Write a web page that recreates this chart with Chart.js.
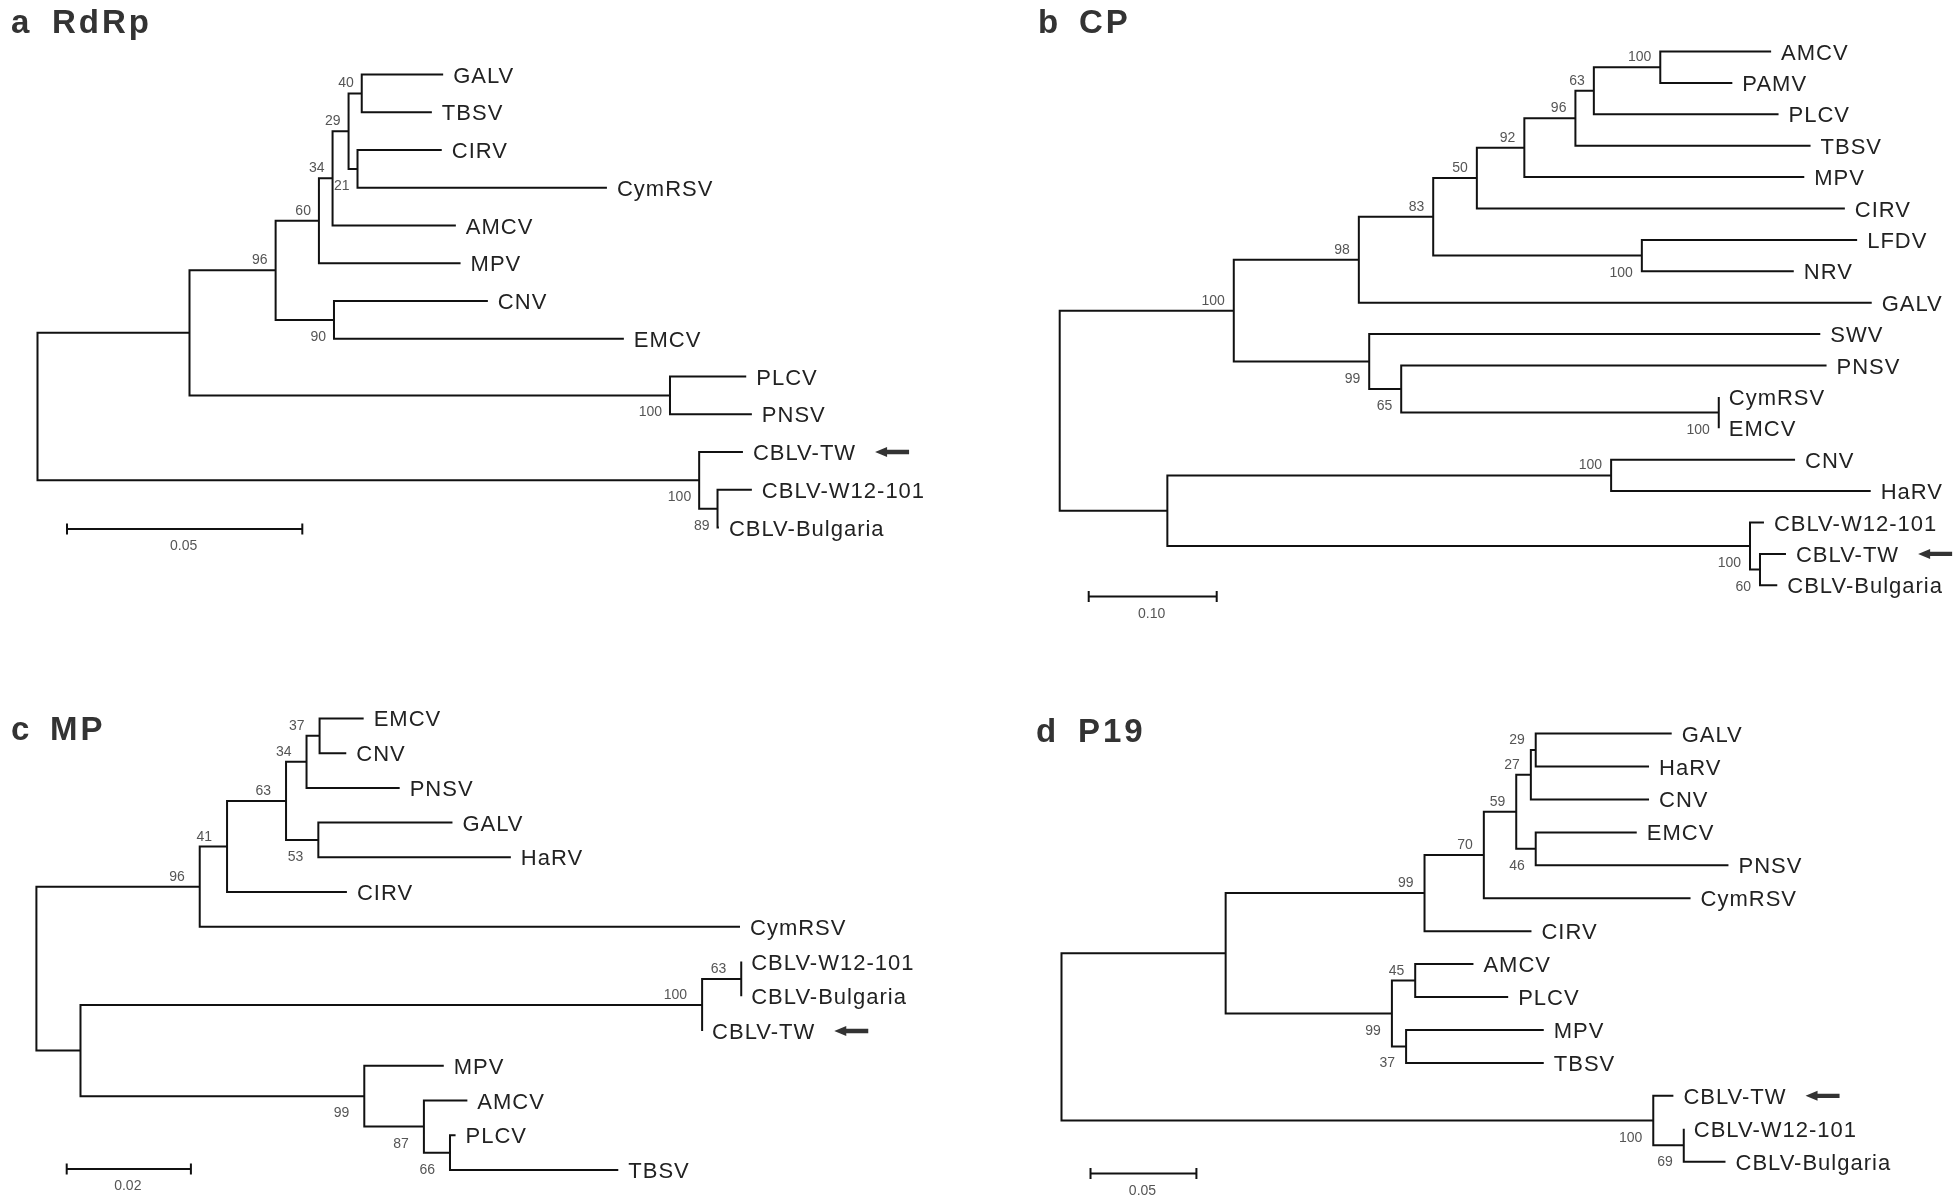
<!DOCTYPE html>
<html>
<head>
<meta charset="utf-8">
<script src="https://cdn.jsdelivr.net/npm/chart.js@4.4.1/dist/chart.umd.min.js"></script>
<style>
  html, body { margin: 0; padding: 0; background: #ffffff; }
  #wrap { position: relative; width: 1960px; height: 1201px; background: #ffffff; overflow: hidden; }
  canvas { position: absolute; }
</style>
</head>
<body>
<div id="wrap">
  <canvas id="pa"></canvas>
  <canvas id="pb"></canvas>
  <canvas id="pc"></canvas>
  <canvas id="pd"></canvas>
</div>
<script>
// ---------------- DATA ----------------
const panelLetters = ["a", "b", "c", "d"];
const panelNames = ["RdRp", "CP", "MP", "P19"];
const scaleLengths = [0.05, 0.10, 0.02, 0.05];
const scaleLabels = ["0.05", "0.10", "0.02", "0.05"];
const markedTip = "CBLV-TW";

// a  RdRp
const rdrpTips = ["GALV", "TBSV", "CIRV", "CymRSV", "AMCV", "MPV", "CNV", "EMCV", "PLCV", "PNSV", "CBLV-TW", "CBLV-W12-101", "CBLV-Bulgaria"];
const rdrpTipDepth = [0.0862, 0.0838, 0.0859, 0.1210, 0.0889, 0.0899, 0.0957, 0.1246, 0.1506, 0.1518, 0.1499, 0.1518, 0.1448];
const rdrpNodes = ["root", "n1", "n96", "n60", "n34", "n29", "n40", "n21", "n90", "nPL", "nCB", "n89"];
const rdrpChildren = [["n1", "nCB"], ["n96", "nPL"], ["n60", "n90"], ["n34", "MPV"], ["n29", "AMCV"], ["n40", "n21"], ["GALV", "TBSV"], ["CIRV", "CymRSV"], ["CNV", "EMCV"], ["PLCV", "PNSV"], ["CBLV-TW", "n89"], ["CBLV-W12-101", "CBLV-Bulgaria"]];
const rdrpNodeDepth = [0, 0.0323, 0.0506, 0.0598, 0.0627, 0.0661, 0.0689, 0.0680, 0.0630, 0.1344, 0.1406, 0.1445];
const rdrpSupport = [null, null, 96, 60, 34, 29, 40, 21, 90, 100, 100, 89];

// b  CP
const cpTips = ["AMCV", "PAMV", "PLCV", "TBSV", "MPV", "CIRV", "LFDV", "NRV", "GALV", "SWV", "PNSV", "CymRSV", "EMCV", "CNV", "HaRV", "CBLV-W12-101", "CBLV-TW", "CBLV-Bulgaria"];
const cpTipDepth = [0.5558, 0.5255, 0.5616, 0.5866, 0.5817, 0.6134, 0.6230, 0.5735, 0.6344, 0.5942, 0.5991, 0.5149, 0.5149, 0.5745, 0.6336, 0.5502, 0.5674, 0.5606];
const cpNodes = ["root", "n100a", "n98", "n83", "n50", "n92", "n96", "n63", "n100b", "n100c", "n99", "n65", "n100d", "nOut", "n100e", "n100f", "n60"];
const cpChildren = [["n100a", "nOut"], ["n98", "n99"], ["n83", "GALV"], ["n50", "n100c"], ["n92", "CIRV"], ["n96", "MPV"], ["n63", "TBSV"], ["n100b", "PLCV"], ["AMCV", "PAMV"], ["LFDV", "NRV"], ["SWV", "n65"], ["PNSV", "n100d"], ["CymRSV", "EMCV"], ["n100e", "n100f"], ["CNV", "HaRV"], ["CBLV-W12-101", "n60"], ["CBLV-TW", "CBLV-Bulgaria"]];
const cpNodeDepth = [0, 0.1360, 0.2337, 0.2918, 0.3259, 0.3630, 0.4029, 0.4173, 0.4692, 0.4548, 0.2418, 0.2668, 0.5149, 0.0841, 0.4308, 0.5393, 0.5471];
const cpSupport = [null, 100, 98, 83, 50, 92, 96, 63, 100, 100, 99, 65, 100, null, 100, 100, 60];

// c  MP
const mpTips = ["EMCV", "CNV", "PNSV", "GALV", "HaRV", "CIRV", "CymRSV", "CBLV-W12-101", "CBLV-Bulgaria", "CBLV-TW", "MPV", "AMCV", "PLCV", "TBSV"];
const mpTipDepth = [0.0527, 0.0499, 0.0585, 0.0670, 0.0764, 0.0500, 0.1133, 0.1135, 0.1135, 0.1072, 0.0656, 0.0694, 0.0675, 0.0937];
const mpNodes = ["root", "n96", "n41", "n63", "n34", "n37", "n53", "nOut", "n100", "n63b", "n99", "n87", "n66"];
const mpChildren = [["n96", "nOut"], ["n41", "CymRSV"], ["n63", "CIRV"], ["n34", "n53"], ["n37", "PNSV"], ["EMCV", "CNV"], ["GALV", "HaRV"], ["n100", "n99"], ["n63b", "CBLV-TW"], ["CBLV-W12-101", "CBLV-Bulgaria"], ["MPV", "n87"], ["AMCV", "n66"], ["PLCV", "TBSV"]];
const mpNodeDepth = [0, 0.0263, 0.0307, 0.0402, 0.0435, 0.0456, 0.0454, 0.0071, 0.1072, 0.1135, 0.0528, 0.0624, 0.0666];
const mpSupport = [null, 96, 41, 63, 34, 37, 53, null, 100, 63, 99, 87, 66];

// d  P19
const p19Tips = ["GALV", "HaRV", "CNV", "EMCV", "PNSV", "CymRSV", "CIRV", "AMCV", "PLCV", "MPV", "TBSV", "CBLV-TW", "CBLV-W12-101", "CBLV-Bulgaria"];
const p19TipDepth = [0.2881, 0.2774, 0.2774, 0.2716, 0.3149, 0.2970, 0.2219, 0.1945, 0.2109, 0.2277, 0.2277, 0.2889, 0.2938, 0.3135];
const p19Nodes = ["root", "n99a", "n99", "n70", "n59", "n27", "n29", "n46", "n99b", "n45", "n37", "n100", "n69"];
const p19Children = [["n99a", "n100"], ["n99", "n99b"], ["n70", "CIRV"], ["n59", "CymRSV"], ["n27", "n46"], ["n29", "CNV"], ["GALV", "HaRV"], ["EMCV", "PNSV"], ["n45", "n37"], ["AMCV", "PLCV"], ["MPV", "TBSV"], ["CBLV-TW", "n69"], ["CBLV-W12-101", "CBLV-Bulgaria"]];
const p19NodeDepth = [0, 0.0775, 0.1714, 0.1994, 0.2147, 0.2216, 0.2239, 0.2239, 0.1560, 0.1670, 0.1627, 0.2794, 0.2938];
const p19Support = [null, null, 99, 70, 59, 27, 29, 46, 99, 45, 37, 100, 69];

// ---------------- LAYOUT (positions / styles) ----------------
const layouts = [
  { canvas: "pa", left: 0,   top: 0,   w: 980, h: 640, rootPx: 37.5, ppu: 4706, row0: 74.5, rowGap: 37.75, letterX: 11, nameX: 52, titleBase: 33, barX: 0.00627, barRow: 12.04, bootGap: 8 },
  { canvas: "pb", left: 980, top: 0,   w: 980, h: 640, rootPx: 79.7, ppu: 1280, row0: 51.5, rowGap: 31.4, letterX: 58, nameX: 99, titleBase: 33, barX: 0.02266, barRow: 17.36, bootGap: 9 },
  { canvas: "pc", left: 0,   top: 640, w: 980, h: 561, rootPx: 36.4, ppu: 6210, row0: 78.4, rowGap: 34.74, letterX: 11, nameX: 50, titleBase: 100, barX: 0.00488, barRow: 12.97, bootGap: 15 },
  { canvas: "pd", left: 980, top: 640, w: 980, h: 561, rootPx: 81.5, ppu: 2118, row0: 93.6, rowGap: 32.93, letterX: 56, nameX: 98, titleBase: 102, barX: 0.0137, barRow: 13.36, bootGap: 11 }
];

const trees = [
  { tips: rdrpTips, tipDepth: rdrpTipDepth, nodes: rdrpNodes, kids: rdrpChildren, nodeDepth: rdrpNodeDepth, support: rdrpSupport },
  { tips: cpTips, tipDepth: cpTipDepth, nodes: cpNodes, kids: cpChildren, nodeDepth: cpNodeDepth, support: cpSupport },
  { tips: mpTips, tipDepth: mpTipDepth, nodes: mpNodes, kids: mpChildren, nodeDepth: mpNodeDepth, support: mpSupport },
  { tips: p19Tips, tipDepth: p19TipDepth, nodes: p19Nodes, kids: p19Children, nodeDepth: p19NodeDepth, support: p19Support }
];

const FONT = '"Liberation Sans", Arial, Helvetica, sans-serif';
const LINE_COLOR = "#111111";

function buildTree(t) {
  const pos = {};
  t.tips.forEach((name, i) => { pos[name] = { x: t.tipDepth[i], y: i, tip: true, name: name }; });
  const idx = {};
  t.nodes.forEach((id, i) => { idx[id] = i; });
  const parent = {};
  function place(id) {
    if (pos[id]) return pos[id];
    const i = idx[id];
    const ks = t.kids[i].map(place);
    t.kids[i].forEach((c, j) => { parent[c] = { id: id, order: j }; });
    pos[id] = { x: t.nodeDepth[i], y: (ks[0].y + ks[ks.length - 1].y) / 2 };
    return pos[id];
  }
  place(t.nodes[0]);
  const pts = [];
  t.nodes.forEach((id, i) => {
    const n = pos[id];
    const ks = t.kids[i].map(c => pos[c]);
    const f = ks[0], l = ks[ks.length - 1];
    pts.push({ x: f.x, y: f.y }, { x: n.x, y: f.y }, { x: n.x, y: l.y }, { x: l.x, y: l.y }, { x: NaN, y: NaN });
    for (let j = 1; j < ks.length - 1; j++) {
      pts.push({ x: n.x, y: ks[j].y }, { x: ks[j].x, y: ks[j].y }, { x: NaN, y: NaN });
    }
  });
  const boots = [];
  t.nodes.forEach((id, i) => {
    if (t.support[i] == null) return;
    const n = pos[id];
    const above = parent[id] ? parent[id].order === 0 : true;
    boots.push({ x: n.x, y: n.y, text: String(t.support[i]), above: above });
  });
  const leaves = t.tips.map(name => pos[name]);
  return { pts, boots, leaves };
}

const treePlugin = {
  id: "treeDecor",
  afterDatasetsDraw(chart, args, opts) {
    const ctx = chart.ctx;
    const xs = chart.scales.x, ys = chart.scales.y;
    const L = opts.layout, tree = opts.tree;
    ctx.save();
    // title
    ctx.fillStyle = "#333333";
    ctx.font = "bold 33px " + FONT;
    ctx.textBaseline = "alphabetic";
    ctx.textAlign = "left";
    try { ctx.letterSpacing = "3px"; } catch (e) {}
    ctx.fillText(opts.letter, L.letterX, L.titleBase);
    ctx.fillText(opts.name, L.nameX, L.titleBase);
    try { ctx.letterSpacing = "0px"; } catch (e) {}

    // leaf labels
    ctx.font = "22px " + FONT;
    ctx.fillStyle = "#222222";
    try { ctx.letterSpacing = "1px"; } catch (e) {}
    tree.leaves.forEach(lf => {
      const px = xs.getPixelForValue(lf.x) + 10;
      const py = ys.getPixelForValue(lf.y);
      ctx.fillText(lf.name, px, py + 8);
      if (lf.name === markedTip) {
        const w = ctx.measureText(lf.name).width;
        const tx = px + w + 19;
        ctx.save();
        ctx.fillStyle = "#333333";
        ctx.beginPath();
        ctx.moveTo(tx, py);
        ctx.lineTo(tx + 12, py - 5);
        ctx.lineTo(tx + 12, py - 2.2);
        ctx.lineTo(tx + 34, py - 2.2);
        ctx.lineTo(tx + 34, py + 2.2);
        ctx.lineTo(tx + 12, py + 2.2);
        ctx.lineTo(tx + 12, py + 5);
        ctx.closePath();
        ctx.fill();
        ctx.restore();
      }
    });
    try { ctx.letterSpacing = "0px"; } catch (e) {}

    // bootstrap values
    ctx.font = "14px " + FONT;
    ctx.fillStyle = "#555555";
    ctx.textAlign = "right";
    tree.boots.forEach(b => {
      const px = xs.getPixelForValue(b.x) - L.bootGap;
      const py = ys.getPixelForValue(b.y);
      ctx.fillText(b.text, px, b.above ? py - 6 : py + 21);
    });

    // scale bar
    const x0 = xs.getPixelForValue(L.barX);
    const x1 = xs.getPixelForValue(L.barX + opts.scaleLen);
    const by = ys.getPixelForValue(L.barRow);
    ctx.strokeStyle = LINE_COLOR;
    ctx.lineWidth = 2;
    ctx.beginPath();
    ctx.moveTo(x0, by); ctx.lineTo(x1, by);
    ctx.moveTo(x0, by - 5.5); ctx.lineTo(x0, by + 5.5);
    ctx.moveTo(x1, by - 5.5); ctx.lineTo(x1, by + 5.5);
    ctx.stroke();
    ctx.textAlign = "center";
    ctx.fillStyle = "#555555";
    ctx.fillText(opts.scaleText, (x0 + x1) / 2 - 1, by + 21);
    ctx.restore();
  }
};

layouts.forEach((L, k) => {
  const cv = document.getElementById(L.canvas);
  cv.width = L.w; cv.height = L.h;
  cv.style.left = L.left + "px"; cv.style.top = L.top + "px";
  cv.style.width = L.w + "px"; cv.style.height = L.h + "px";
  const tree = buildTree(trees[k]);
  const xmin = -L.rootPx / L.ppu, xmax = xmin + L.w / L.ppu;
  const ymin = -L.row0 / L.rowGap, ymax = ymin + L.h / L.rowGap;
  new Chart(cv, {
    type: "scatter",
    data: {
      datasets: [{
        data: tree.pts,
        showLine: true,
        spanGaps: false,
        borderColor: LINE_COLOR,
        borderWidth: 2,
        borderJoinStyle: "miter",
        borderCapStyle: "butt",
        pointRadius: 0,
        pointHoverRadius: 0,
        tension: 0
      }]
    },
    options: {
      responsive: false,
      maintainAspectRatio: false,
      animation: false,
      events: [],
      devicePixelRatio: 1,
      layout: { padding: 0 },
      scales: {
        x: { type: "linear", display: false, min: xmin, max: xmax },
        y: { type: "linear", display: false, min: ymin, max: ymax, reverse: true }
      },
      plugins: {
        legend: { display: false },
        tooltip: { enabled: false },
        treeDecor: {
          layout: L, tree: tree,
          letter: panelLetters[k], name: panelNames[k],
          scaleLen: scaleLengths[k], scaleText: scaleLabels[k]
        }
      }
    },
    plugins: [treePlugin]
  });
});
</script>
</body>
</html>
